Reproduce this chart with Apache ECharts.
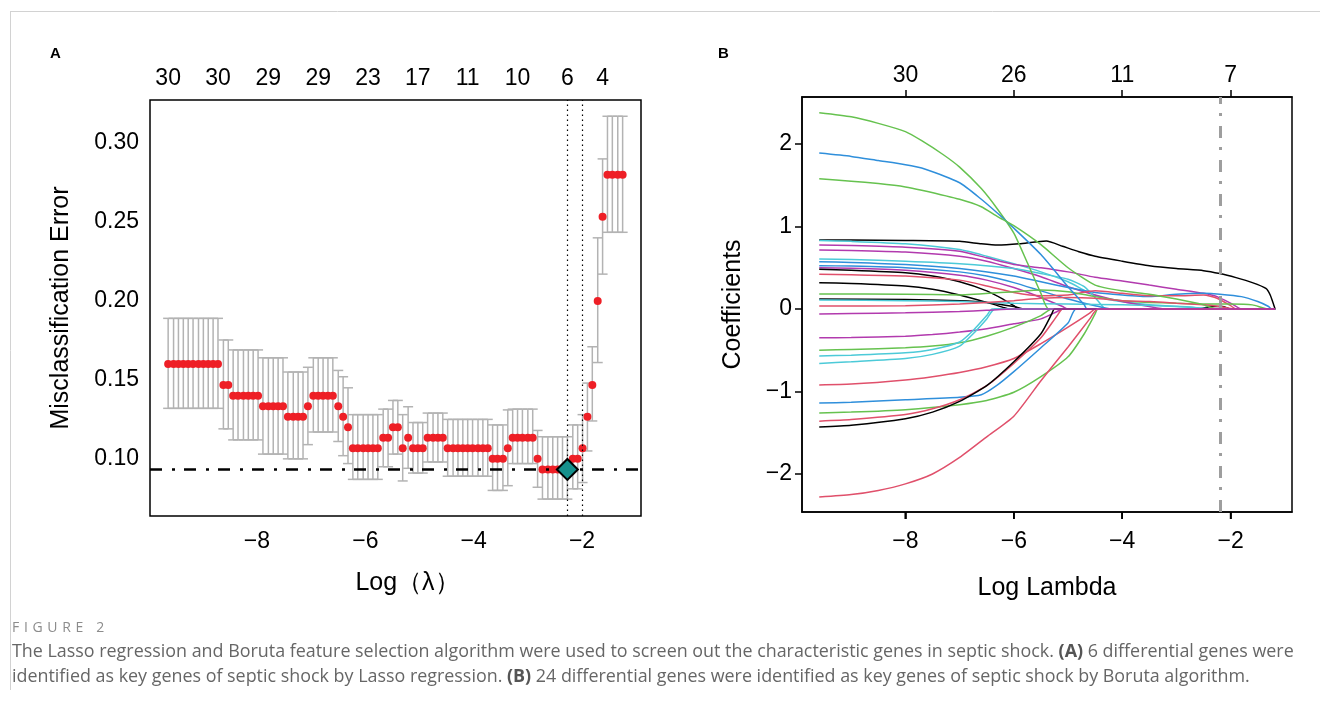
<!DOCTYPE html>
<html lang="en">
<head>
<meta charset="utf-8">
<script src="https://cdn.jsdelivr.net/npm/echarts@6/dist/echarts.min.js"></script>
</head>
<body style="margin:0;background:#fff">
<div id="container" style="width:1320px;height:706px"></div>
<script>
// ---------- panel A : CV misclassification error ----------
var logLam = [-9.64,-9.54,-9.45,-9.36,-9.27,-9.18,-9.08,-8.99,-8.90,-8.81,
  -8.72,-8.62,-8.53,-8.44,-8.35,-8.25,-8.16,-8.07,-7.98,-7.89,
  -7.79,-7.70,-7.61,-7.52,-7.43,-7.33,-7.24,-7.15,-7.06,-6.96,
  -6.87,-6.78,-6.69,-6.60,-6.50,-6.41,-6.32,-6.23,-6.14,-6.04,
  -5.95,-5.86,-5.77,-5.67,-5.58,-5.49,-5.40,-5.31,-5.21,-5.12,
  -5.03,-4.94,-4.85,-4.75,-4.66,-4.57,-4.48,-4.38,-4.29,-4.20,
  -4.11,-4.02,-3.92,-3.83,-3.74,-3.65,-3.56,-3.46,-3.37,-3.28,
  -3.19,-3.10,-3.00,-2.91,-2.82,-2.73,-2.63,-2.54,-2.45,-2.36,
  -2.27,-2.17,-2.08,-1.99,-1.90,-1.81,-1.71,-1.62,-1.53,-1.44,
  -1.34,-1.25];
var cvErr = [0.16,0.16,0.16,0.16,0.16,0.16,0.16,0.16,0.16,0.16,
  0.16,0.1467,0.1467,0.14,0.14,0.14,0.14,0.14,0.14,0.1333,
  0.1333,0.1333,0.1333,0.1333,0.1267,0.1267,0.1267,0.1267,0.1333,0.14,
  0.14,0.14,0.14,0.14,0.1333,0.1267,0.12,0.1067,0.1067,0.1067,
  0.1067,0.1067,0.1067,0.1133,0.1133,0.12,0.12,0.1067,0.1133,0.1067,
  0.1067,0.1067,0.1133,0.1133,0.1133,0.1133,0.1067,0.1067,0.1067,0.1067,
  0.1067,0.1067,0.1067,0.1067,0.1067,0.10,0.10,0.10,0.1067,0.1133,
  0.1133,0.1133,0.1133,0.1133,0.10,0.0933,0.0933,0.0933,0.0933,0.0933,
  0.0933,0.10,0.10,0.1067,0.1267,0.1467,0.20,0.2533,0.28,0.28,
  0.28,0.28];
var cvUp = [0.189,0.189,0.189,0.189,0.189,0.189,0.189,0.189,0.189,0.189,
  0.189,0.1753,0.1753,0.169,0.169,0.169,0.169,0.169,0.169,0.164,
  0.164,0.164,0.164,0.164,0.155,0.155,0.155,0.155,0.158,0.164,
  0.164,0.164,0.164,0.164,0.156,0.152,0.145,0.128,0.128,0.128,
  0.128,0.128,0.128,0.1315,0.1315,0.137,0.137,0.128,0.133,0.123,
  0.123,0.123,0.129,0.129,0.129,0.129,0.125,0.125,0.125,0.125,
  0.125,0.125,0.125,0.125,0.125,0.1215,0.1215,0.1215,0.131,0.1315,
  0.1315,0.1315,0.1315,0.1315,0.118,0.114,0.114,0.114,0.114,0.114,
  0.114,0.1215,0.1215,0.128,0.148,0.171,0.240,0.290,0.317,0.317,
  0.317,0.317];
var cvLo = [0.132,0.132,0.132,0.132,0.132,0.132,0.132,0.132,0.132,0.132,
  0.132,0.119,0.119,0.112,0.112,0.112,0.112,0.112,0.112,0.103,
  0.103,0.103,0.103,0.103,0.100,0.100,0.100,0.100,0.109,0.117,
  0.117,0.117,0.117,0.117,0.111,0.102,0.097,0.087,0.087,0.087,
  0.087,0.087,0.087,0.095,0.095,0.103,0.103,0.086,0.094,0.091,
  0.091,0.091,0.098,0.098,0.098,0.098,0.089,0.089,0.089,0.089,
  0.089,0.089,0.089,0.089,0.089,0.080,0.080,0.080,0.083,0.097,
  0.097,0.097,0.097,0.097,0.082,0.0745,0.0745,0.0745,0.0745,0.0745,
  0.0745,0.081,0.081,0.085,0.105,0.124,0.161,0.217,0.2435,0.2435,
  0.2435,0.2435];
var nzLabelsA = ['30','30','29','29','23','17','11','10','6','4'];
var nzIndexA = [0,10,20,30,40,50,60,70,80,87];

// ---------- panel B : coefficient paths ----------
var ticksB = [-8,-6,-4,-2];
var yTicksB = [-2,-1,0,1,2];
var nzLabelsB = ['30','26','11','7'];
var cutB = -2.2;
var coefPaths = {
  K1: [[-9.59,0.836],[-9,0.835],[-8,0.83],[-7,0.82],[-6.6,0.79],[-6.3,0.775],[-5.9,0.79],[-5.4,0.824],[-5.1,0.76],[-4.8,0.695],[-4.5,0.64],[-4,0.58],[-3.5,0.525],[-3,0.49],[-2.5,0.465],[-2.2,0.43],[-1.9,0.38],[-1.6,0.32],[-1.35,0.25],[-1.27,0.17],[-1.18,0]],
  C1: [[-9.59,0.83],[-9,0.82],[-8,0.79],[-7,0.72],[-6.5,0.64],[-6,0.55],[-5.5,0.45],[-5,0.33],[-4.65,0.21],[-4.3,0.12],[-3.5,0.05],[-2.7,0.02],[-2.5,0],[-1.18,0]],
  M1: [[-9.59,0.776],[-9,0.77],[-8,0.75],[-7,0.70],[-6.5,0.62],[-6,0.54],[-5.5,0.50],[-5,0.45],[-4.5,0.385],[-4,0.34],[-3.5,0.29],[-3,0.24],[-2.5,0.19],[-2.25,0.15],[-2,0.07],[-1.8,0],[-1.18,0]],
  M2: [[-9.59,0.715],[-9,0.71],[-8,0.69],[-7,0.64],[-6.5,0.58],[-6,0.49],[-5.5,0.39],[-5,0.27],[-4.5,0.17],[-4,0.09],[-3.5,0.03],[-3.2,0],[-1.18,0]],
  C2: [[-9.59,0.606],[-9,0.60],[-8,0.58],[-7,0.55],[-6,0.49],[-5.5,0.43],[-5,0.36],[-4.7,0.27],[-4.45,0.1],[-4.3,0],[-1.18,0]],
  B2: [[-9.59,0.573],[-9,0.565],[-8,0.54],[-7,0.49],[-6,0.40],[-5.5,0.33],[-5,0.26],[-4.5,0.20],[-4,0.17],[-3.5,0.15],[-3,0.18],[-2.5,0.19],[-2.2,0.18],[-1.8,0.15],[-1.5,0.09],[-1.3,0.03],[-1.25,0],[-1.18,0]],
  B3: [[-9.59,0.525],[-9,0.52],[-8,0.50],[-7,0.45],[-6.5,0.40],[-6,0.32],[-5.5,0.22],[-5,0.12],[-4.5,0.04],[-4.2,0],[-1.18,0]],
  M3: [[-9.59,0.50],[-9,0.495],[-8,0.47],[-7,0.41],[-6.5,0.35],[-6,0.26],[-5.5,0.14],[-5.1,0.03],[-5,0],[-1.18,0]],
  K2: [[-9.59,0.481],[-9,0.47],[-8,0.44],[-7.5,0.40],[-7,0.33],[-6.5,0.22],[-6.2,0.12],[-6,0.04],[-5.9,0],[-1.18,0]],
  R1: [[-9.59,0.42],[-9,0.415],[-8,0.40],[-7,0.35],[-6.5,0.28],[-6,0.20],[-5.5,0.16],[-5,0.17],[-4.5,0.22],[-4,0.19],[-3.5,0.16],[-3,0.16],[-2.5,0.17],[-2.25,0.13],[-2,0.04],[-1.9,0],[-1.18,0]],
  K3: [[-9.59,0.319],[-9,0.31],[-8,0.28],[-7.5,0.24],[-7,0.17],[-6.5,0.08],[-6.2,0.02],[-6.1,0],[-1.18,0]],
  G3: [[-9.59,0.182],[-8,0.18],[-7,0.17],[-6,0.21],[-5.5,0.23],[-5,0.21],[-4.5,0.15],[-4,0.10],[-3.5,0.08],[-3,0.07],[-2.5,0.06],[-2,0.06],[-1.6,0.05],[-1.3,0],[-1.18,0]],
  K4: [[-9.59,0.121],[-8,0.115],[-7,0.10],[-6.5,0.08],[-6,0.03],[-5.8,0],[-2.6,0],[-2.35,0.03],[-2.15,0.03],[-2.0,0],[-1.18,0]],
  C3: [[-9.59,0.109],[-8,0.10],[-7,0.09],[-6,0.07],[-5,0.06],[-4,0.05],[-3,0.03],[-2.5,0.01],[-2.3,0],[-1.18,0]],
  R2: [[-9.59,0.036],[-8,0.04],[-7,0.06],[-6,0.10],[-5.5,0.13],[-5,0.14],[-4.5,0.13],[-4,0.10],[-3.5,0.09],[-3,0.07],[-2.5,0.05],[-2.2,0.03],[-1.9,0],[-1.18,0]],
  G1: [[-9.59,2.38],[-9,2.33],[-8.5,2.25],[-8,2.15],[-7.7,2.04],[-7.3,1.87],[-7,1.72],[-6.6,1.46],[-6.3,1.21],[-6,0.92],[-5.75,0.56],[-5.5,0.19],[-5.35,0],[-1.18,0]],
  B1: [[-9.59,1.89],[-9,1.85],[-8.5,1.80],[-8,1.75],[-7.7,1.71],[-7,1.53],[-6.6,1.33],[-6.3,1.16],[-6,0.98],[-5.5,0.66],[-5,0.27],[-4.7,0.05],[-4.65,0],[-1.18,0]],
  G2: [[-9.59,1.58],[-9,1.55],[-8.5,1.52],[-8,1.48],[-7.7,1.44],[-7,1.33],[-6.6,1.24],[-6.3,1.12],[-6,1.01],[-5.5,0.78],[-5,0.50],[-4.5,0.29],[-4,0.22],[-3.5,0.18],[-3,0.12],[-2.5,0.05],[-2.25,0],[-1.18,0]],
  M5: [[-9.59,-0.35],[-9,-0.345],[-8,-0.33],[-7.5,-0.31],[-7,-0.28],[-6.5,-0.24],[-6,-0.18],[-5.5,-0.12],[-5.2,-0.03],[-5.1,0],[-1.18,0]],
  G4: [[-9.59,-0.50],[-9,-0.49],[-8,-0.47],[-7.5,-0.45],[-7,-0.41],[-6.5,-0.33],[-6,-0.22],[-5.5,-0.08],[-5.3,0],[-1.18,0]],
  C4: [[-9.59,-0.57],[-9,-0.56],[-8,-0.53],[-7.5,-0.49],[-7,-0.40],[-6.75,-0.26],[-6.5,-0.08],[-6.4,0],[-1.18,0]],
  C5: [[-9.59,-0.66],[-9,-0.64],[-8,-0.60],[-7.5,-0.55],[-7,-0.45],[-6.75,-0.30],[-6.5,-0.12],[-6.35,0],[-1.18,0]],
  R3: [[-9.59,-0.92],[-9,-0.91],[-8,-0.86],[-7.5,-0.82],[-7,-0.77],[-6.5,-0.70],[-6,-0.60],[-5.5,-0.42],[-5,-0.22],[-4.6,-0.05],[-4.5,0],[-1.18,0]],
  B4: [[-9.59,-1.14],[-9,-1.13],[-8,-1.10],[-7,-1.07],[-6.6,-1.04],[-6.32,-0.93],[-6,-0.76],[-5.5,-0.47],[-5,-0.17],[-4.85,0],[-1.18,0]],
  G5: [[-9.59,-1.26],[-9,-1.25],[-8,-1.22],[-7,-1.16],[-6.5,-1.11],[-6,-1.01],[-5.5,-0.82],[-5,-0.58],[-4.7,-0.30],[-4.5,-0.06],[-4.45,0],[-1.18,0]],
  R4: [[-9.59,-1.36],[-9,-1.34],[-8,-1.28],[-7.5,-1.21],[-7,-1.10],[-6.5,-0.93],[-6,-0.66],[-5.5,-0.35],[-5.2,-0.08],[-5.1,0],[-1.18,0]],
  K5: [[-9.59,-1.43],[-9,-1.41],[-8,-1.33],[-7.5,-1.25],[-7,-1.12],[-6.5,-0.93],[-6,-0.64],[-5.5,-0.30],[-5.3,-0.06],[-5.25,0],[-1.18,0]],
  R5: [[-9.59,-2.28],[-9,-2.25],[-8.5,-2.20],[-8,-2.12],[-7.5,-2.00],[-7,-1.80],[-6.5,-1.55],[-6,-1.30],[-5.5,-0.87],[-5,-0.46],[-4.6,-0.12],[-4.45,0],[-1.18,0]],
  M4: [[-9.59,-0.06],[-9,-0.055],[-8,-0.045],[-7,-0.03],[-6.5,-0.015],[-6,0],[-1.18,0]]
};
// matplot palette: black, red, green, blue, cyan, magenta
var pal = {K: '#000000', R: '#E0506B', G: '#66C24F', B: '#2F8FDB', C: '#4CCAD8', M: '#B23AAE'};

var FONT = 'Liberation Sans, Arial, sans-serif';
var minus = function (v) { return v < 0 ? '\u2212' + Math.abs(v) : String(v); };

// lambda.min (largest lambda with minimal error) and lambda.1se
var minErr = Math.min.apply(null, cvErr);
var minIdx = 0;
cvErr.forEach(function (e, i) { if (e === minErr) minIdx = i; });
var seMin = (cvUp[minIdx] - cvLo[minIdx]) / 2;
var seIdx = minIdx;
cvErr.forEach(function (e, i) { if (e <= minErr + seMin) seIdx = i; });

var barData = logLam.map(function (x, i) { return [x, cvLo[i], cvUp[i]]; });
var ptData = logLam.map(function (x, i) { return [x, cvErr[i]]; });
var nzValsA = nzIndexA.map(function (i) { return logLam[i]; });

var yMinB = -2.461, yMaxB = 2.57;

var dom = document.getElementById('container');
var myChart = echarts.init(dom, null, { renderer: 'canvas' });

function txt(extra) {
  return Object.assign({ fontSize: 23, color: '#000', fontFamily: FONT }, extra);
}
var nameTxt = { fontSize: 25, color: '#000', fontFamily: FONT };

var seriesB = Object.keys(coefPaths).map(function (k) {
  return {
    type: 'line', xAxisIndex: 2, yAxisIndex: 1, data: coefPaths[k],
    symbol: 'none', smooth: 0.2, silent: true, z: 2,
    lineStyle: { color: pal[k.charAt(0)], width: 1.5 }
  };
});

var option = {
  animation: false,
  backgroundColor: '#fff',
  grid: [
    { left: 150, top: 100, width: 491, height: 416, show: true, borderColor: '#000', borderWidth: 1.5 },
    { left: 802, top: 97, width: 490, height: 415, show: true, borderColor: '#000', borderWidth: 1.5 }
  ],
  xAxis: [
    {
      type: 'value', gridIndex: 0, min: -9.975, max: -0.911,
      axisLine: { show: false, onZero: false }, axisTick: { show: false }, splitLine: { show: false },
      axisLabel: txt({ customValues: [-8, -6, -4, -2], formatter: minus, margin: 14 }),
      name: 'Log\uFF08\u03BB\uFF09', nameLocation: 'middle', nameGap: 55,
      nameTextStyle: Object.assign({ padding: [0, 0, 0, 24] }, nameTxt)
    },
    {
      type: 'value', gridIndex: 0, position: 'top', min: -9.975, max: -0.911,
      axisLine: { show: false, onZero: false }, axisTick: { show: false }, splitLine: { show: false },
      axisLabel: txt({
        customValues: nzValsA, margin: 10,
        formatter: function (v) { return nzLabelsA[nzValsA.indexOf(v)]; }
      })
    },
    {
      type: 'value', gridIndex: 1, position: 'bottom', min: -9.908, max: -0.868,
      axisLine: { show: true, onZero: false, lineStyle: { color: '#000', width: 1.5 } },
      splitLine: { show: false },
      axisTick: { show: true, customValues: ticksB, length: 7, lineStyle: { color: '#000', width: 1.5 } },
      axisLabel: txt({ customValues: ticksB, formatter: minus, margin: 18 }),
      name: 'Log Lambda', nameLocation: 'middle', nameGap: 64, nameTextStyle: nameTxt
    },
    {
      type: 'value', gridIndex: 1, position: 'top', min: -9.908, max: -0.868,
      axisLine: { show: true, onZero: false, lineStyle: { color: '#000', width: 1.5 } },
      splitLine: { show: false },
      axisTick: { show: true, customValues: ticksB, length: 7, lineStyle: { color: '#000', width: 1.5 } },
      axisLabel: txt({
        customValues: ticksB, margin: 10,
        formatter: function (v) { return nzLabelsB[ticksB.indexOf(v)]; }
      })
    }
  ],
  yAxis: [
    {
      type: 'value', gridIndex: 0, min: 0.0638, max: 0.3273,
      axisLine: { show: false, onZero: false }, axisTick: { show: false }, splitLine: { show: false },
      axisLabel: txt({
        customValues: [0.10, 0.15, 0.20, 0.25, 0.30], margin: 11,
        formatter: function (v) { return v.toFixed(2); }
      }),
      name: 'Misclassification Error', nameLocation: 'middle', nameGap: 76, nameTextStyle: nameTxt
    },
    {
      type: 'value', gridIndex: 1, min: yMinB, max: yMaxB,
      axisLine: { show: true, onZero: false, lineStyle: { color: '#000', width: 1.5 } },
      splitLine: { show: false },
      axisTick: { show: true, customValues: yTicksB, length: 7, lineStyle: { color: '#000', width: 1.5 } },
      axisLabel: txt({ customValues: yTicksB, formatter: minus, margin: 10 }),
      name: 'Coefficients', nameLocation: 'middle', nameGap: 56, nameTextStyle: nameTxt
    }
  ],
  series: [
    {
      type: 'custom', xAxisIndex: 0, yAxisIndex: 0, data: barData, silent: true, z: 1,
      renderItem: function (params, api) {
        var lo = api.coord([api.value(0), api.value(1)]);
        var hi = api.coord([api.value(0), api.value(2)]);
        var w = 5, st = { stroke: '#B3B3B3', lineWidth: 1.5 };
        return {
          type: 'group', children: [
            { type: 'line', shape: { x1: lo[0], y1: lo[1], x2: hi[0], y2: hi[1] }, style: st },
            { type: 'line', shape: { x1: hi[0] - w, y1: hi[1], x2: hi[0] + w, y2: hi[1] }, style: st },
            { type: 'line', shape: { x1: lo[0] - w, y1: lo[1], x2: lo[0] + w, y2: lo[1] }, style: st }
          ]
        };
      }
    },
    {
      type: 'scatter', xAxisIndex: 0, yAxisIndex: 0, data: ptData, silent: true, z: 2,
      symbolSize: 8, itemStyle: { color: '#EE1F26', opacity: 1 }
    },
    {
      type: 'scatter', xAxisIndex: 0, yAxisIndex: 0, data: [], silent: true, z: 3, symbolSize: 0,
      markLine: {
        silent: true, symbol: ['none', 'none'], label: { show: false }, animation: false, precision: 6,
        data: [
          { yAxis: minErr, lineStyle: { color: '#000', width: 2.6, type: [12, 10, 3, 9] } },
          { xAxis: logLam[minIdx], lineStyle: { color: '#000', width: 1.2, type: [1.5, 3.5] } },
          { xAxis: logLam[seIdx], lineStyle: { color: '#000', width: 1.2, type: [1.5, 3.5] } }
        ]
      }
    },
    {
      type: 'scatter', xAxisIndex: 0, yAxisIndex: 0, silent: true, z: 5,
      data: [[logLam[minIdx], minErr]], symbol: 'diamond', symbolSize: [21, 21],
      itemStyle: { color: '#15908C', borderColor: '#000', borderWidth: 2, opacity: 1 }
    },
    {
      type: 'line', xAxisIndex: 2, yAxisIndex: 1, data: [], silent: true, z: 3, symbol: 'none',
      markLine: {
        silent: true, symbol: ['none', 'none'], label: { show: false }, animation: false, precision: 6,
        data: [{ xAxis: cutB, lineStyle: { color: '#9E9E9E', width: 3, type: [12, 10, 3, 9] } }]
      }
    },
    {
      // outward tick marks under the bottom axis of panel B
      type: 'custom', xAxisIndex: 2, yAxisIndex: 1, silent: true, clip: false, z: 20,
      encode: { x: 0, y: 1 },
      data: ticksB.map(function (v) { return [v, yMinB]; }),
      renderItem: function (params, api) {
        var p = api.coord([api.value(0), api.value(1)]);
        return { type: 'line', z2: 100, shape: { x1: p[0], y1: p[1], x2: p[0], y2: p[1] + 7 },
          style: { stroke: '#000', lineWidth: 1.5 } };
      }
    }
  ].concat(seriesB),
  graphic: [
    { type: 'line', silent: true, shape: { x1: 10, y1: 11.5, x2: 1320, y2: 11.5 }, style: { stroke: '#D2D2D2', lineWidth: 1 } },
    { type: 'line', silent: true, shape: { x1: 10.5, y1: 11, x2: 10.5, y2: 690 }, style: { stroke: '#D2D2D2', lineWidth: 1 } },
    { type: 'text', left: 50, top: 46, style: { text: 'A', font: 'bold 15px ' + FONT, fill: '#000' } },
    { type: 'text', left: 718, top: 46, style: { text: 'B', font: 'bold 15px ' + FONT, fill: '#000' } },
    { type: 'text', left: 12, top: 621, style: { text: 'F\u2004I\u2004G\u2004U\u2004R\u2004E\u2004 \u20042', font: '14px "Open Sans", sans-serif', fill: '#8C8C8C' } },
    {
      type: 'text', left: 12, top: 643,
      style: {
        text: 'The Lasso regression and Boruta feature selection algorithm were used to screen out the characteristic genes in septic shock. {b|(A)} 6 differential genes were',
        font: '17.9px "Open Sans", sans-serif', fill: '#666',
        rich: { b: { fontWeight: 'bold', fontSize: 17.9, fontFamily: 'Open Sans', fill: '#555' } }
      }
    },
    {
      type: 'text', left: 12, top: 668,
      style: {
        text: 'identified as key genes of septic shock by Lasso regression. {b|(B)} 24 differential genes were identified as key genes of septic shock by Boruta algorithm.',
        font: '17.9px "Open Sans", sans-serif', fill: '#666',
        rich: { b: { fontWeight: 'bold', fontSize: 17.9, fontFamily: 'Open Sans', fill: '#555' } }
      }
    }
  ]
};

myChart.setOption(option);

// extra safety: bottom ticks of panel B placed through the axis scale
var tickMarks = ticksB.map(function (v, i) {
  var p = myChart.convertToPixel({ xAxisIndex: 2, yAxisIndex: 1 }, [v, yMinB]);
  return { type: 'line', id: 'btick' + i, silent: true, z: 100,
    shape: { x1: p[0], y1: p[1], x2: p[0], y2: p[1] + 7 },
    style: { stroke: '#000', lineWidth: 1.5 } };
});
myChart.setOption({ graphic: tickMarks });

window.addEventListener('resize', myChart.resize);
</script>
</body>
</html>
